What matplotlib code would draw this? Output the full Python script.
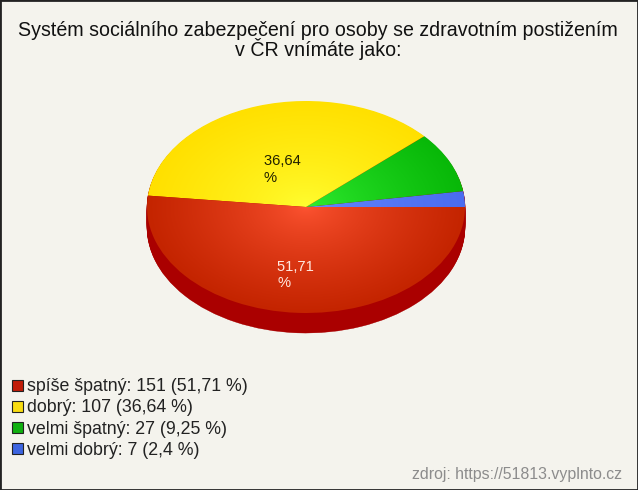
import numpy as np
import matplotlib
matplotlib.use("Agg")
from matplotlib import pyplot as plt
from matplotlib.colors import LinearSegmentedColormap
from matplotlib.patches import Patch, Rectangle

plt.rcParams['font.family'] = ['Liberation Sans', 'DejaVu Sans']

categories = ['spíše špatný', 'dobrý', 'velmi špatný', 'velmi dobrý']
counts = [151, 107, 27, 7]
percents = ['51,71', '36,64', '9,25', '2,4']
title = 'Systém sociálního zabezpečení pro osoby se zdravotním postižením\nv ČR vnímáte jako:'
source = 'zdroj: https://51813.vyplnto.cz'

inner_colors = ['#ff5533', '#ffff33', '#33f033', '#6a8cff']
outer_colors = ['#c42400', '#ffe000', '#08b808', '#4a6cf0']
legend_colors = ['#c01c08', '#f8dc10', '#10b010', '#3c64e0']
bg = '#f4f3ed'
W, H = 638, 490

fig = plt.figure(figsize=(W / 100, H / 100), dpi=100, facecolor=bg)
# pie box in pixels, squashed to an ellipse
ax = fig.add_axes([147 / W, 1 - 313 / H, 318 / W, 212 / H])

# order on the pie runs counter clockwise: blue, green, yellow, red
order = [3, 2, 1, 0]
vals = [counts[i] for i in order]
start = 360 - 0.0

depth = 20 / 106
for off in np.linspace(depth, 0.01, 30):
    w, _ = ax.pie(vals, startangle=start, counterclock=True, radius=1,
                  center=(0, -off), colors=['#aa0000'] * 4, frame=False)
    for p in w:
        p.set_zorder(1)
        p.set_edgecolor('#aa0000')
        p.set_linewidth(0.3)

wedges, _ = ax.pie(vals, startangle=start, counterclock=True, radius=1, frame=False)

yy, xx = np.mgrid[-1:1:300j, -1:1:300j]
rr = np.clip(np.sqrt(xx ** 2 + yy ** 2), 0, 1) ** 0.7
for wedge, i in zip(wedges, order):
    wedge.set_facecolor('none')
    wedge.set_edgecolor('none')
    wedge.set_zorder(2)
    cmap = LinearSegmentedColormap.from_list('g', [inner_colors[i], outer_colors[i]])
    im = ax.imshow(rr, cmap=cmap, vmin=0, vmax=1, extent=[-1, 1, -1, 1],
                   origin='lower', aspect='auto', zorder=2)
    im.set_clip_path(wedge)

ax.set_aspect('auto')
ax.set_xlim(-1, 1)
ax.set_ylim(-1, 1)
ax.axis('off')

# frame, dark on left/right/bottom
fig.add_artist(Rectangle((0, 0), 1, 1, transform=fig.transFigure, fill=False,
                         edgecolor='#222222', linewidth=2.0))

fig.text(318 / W, 1 - 40.5 / H, title, ha='center', va='center', fontsize=14.15,
         color='#111111', linespacing=0.87)

fig.text(264 / W, 1 - 169.5 / H, percents[1] + ' \n%', ha='left', va='center',
         fontsize=10.6, color='#222200', linespacing=1.25)
fig.text(277 / W, 1 - 275 / H, percents[0] + ' \n%', ha='left', va='center',
         fontsize=10.6, color='#ffe8e0', linespacing=1.25)

handles = [Patch(facecolor=c, edgecolor='#222222', linewidth=0.8) for c in legend_colors]
labels = ['%s: %d (%s %%)' % (n, c, p) for n, c, p in zip(categories, counts, percents)]
fig.legend(handles, labels, loc='lower left', bbox_to_anchor=(7 / W, 1 - 464 / H),
           frameon=False, fontsize=12.8, labelspacing=0.23, handlelength=0.58,
           handleheight=0.58, handletextpad=0.22, borderpad=0.3, borderaxespad=0,
           labelcolor='#222222')

fig.text(622 / W, 1 - 474 / H, source, ha='right', va='center', fontsize=11.4,
         color='#8c8c8c')

fig.savefig('out.png', dpi=100, facecolor=bg)
